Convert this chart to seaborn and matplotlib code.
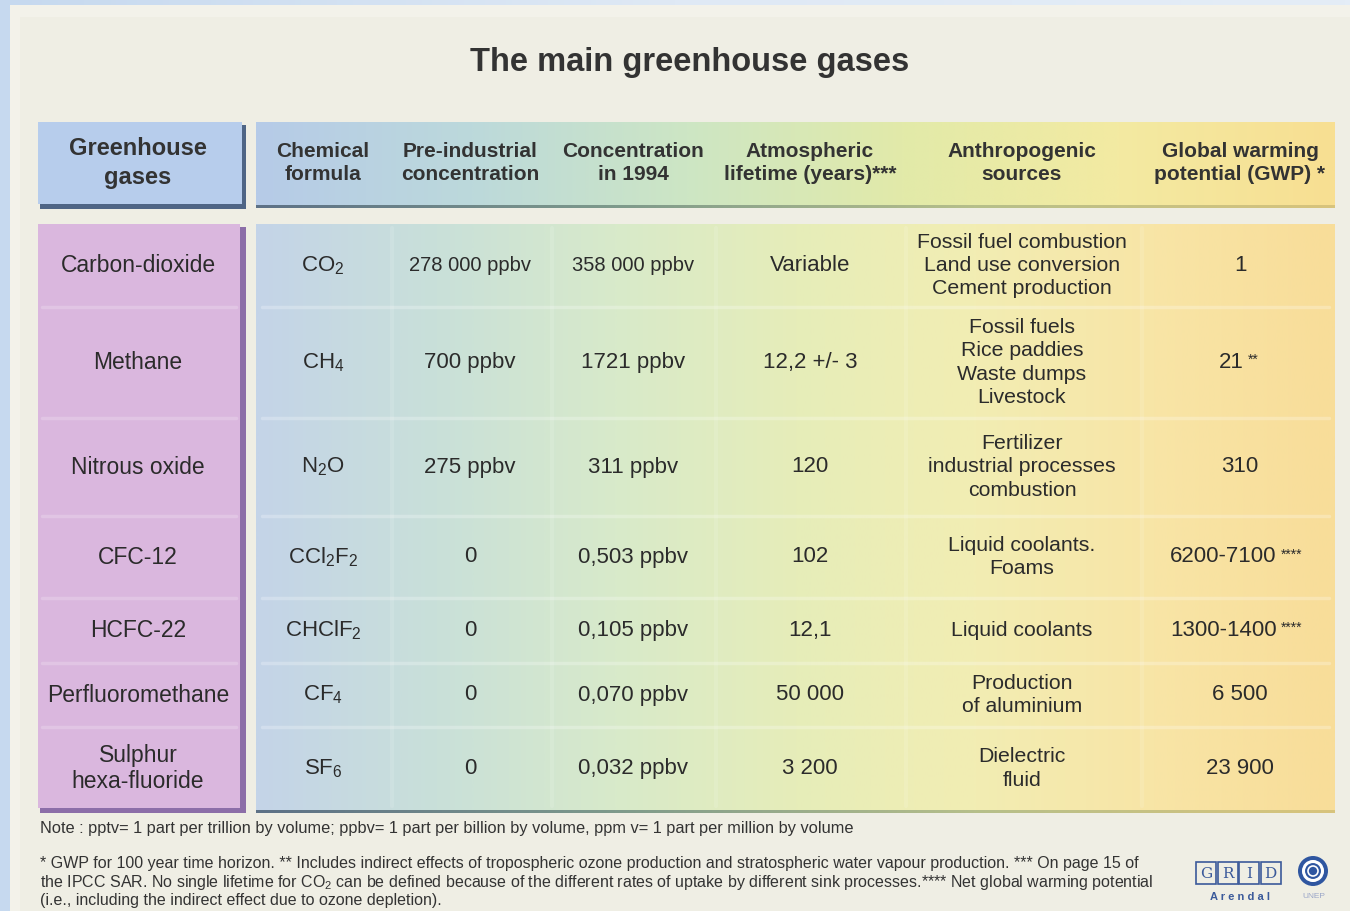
import matplotlib
matplotlib.use('Agg')
import matplotlib.pyplot as plt
import matplotlib.transforms as mtransforms
from matplotlib.patches import Rectangle, Circle
import numpy as np
import seaborn as sns

sns.set_theme(style='white')
plt.rcParams['font.family'] = ['Liberation Sans', 'DejaVu Sans']
plt.rcParams['mathtext.default'] = 'regular'

# table content
title = 'The main greenhouse gases'
headers = ['Greenhouse\ngases', 'Chemical\nformula', 'Pre-industrial\nconcentration',
           'Concentration\nin 1994', 'Atmospheric\nlifetime (years)***',
           'Anthropogenic\nsources', 'Global warming\npotential (GWP) *']
gases = ['Carbon-dioxide', 'Methane', 'Nitrous oxide', 'CFC-12', 'HCFC-22',
         'Perfluoromethane', 'Sulphur\nhexa-fluoride']
formulas = [r'$\mathregular{CO_2}$', r'$\mathregular{CH_4}$', r'$\mathregular{N_2O}$',
            r'$\mathregular{CCl_2F_2}$', r'$\mathregular{CHClF_2}$',
            r'$\mathregular{CF_4}$', r'$\mathregular{SF_6}$']
pre_industrial = ['278 000 ppbv', '700 ppbv', '275 ppbv', '0', '0', '0', '0']
conc_1994 = ['358 000 ppbv', '1721 ppbv', '311 ppbv', '0,503 ppbv', '0,105 ppbv',
             '0,070 ppbv', '0,032 ppbv']
lifetime = ['Variable', '12,2 +/- 3', '120', '102', '12,1', '50 000', '3 200']
sources = ['Fossil fuel combustion\nLand use conversion\nCement production',
           'Fossil fuels\nRice paddies\nWaste dumps\nLivestock',
           'Fertilizer\nindustrial processes\ncombustion',
           'Liquid coolants.\nFoams', 'Liquid coolants',
           'Production\nof aluminium', 'Dielectric\nfluid']
gwp = ['1', '21', '310', '6200-7100', '1300-1400', '6 500', '23 900']
gwp_marks = ['', '**', '', '****', '****', '', '']

note = ('Note : pptv= 1 part per trillion by volume; ppbv= 1 part per billion by volume, '
        'ppm v= 1 part per million by volume')
footnote = ('* GWP for 100 year time horizon. ** Includes indirect effects of tropospheric ozone '
            'production and stratospheric water vapour production. *** On page 15 of\n'
            'the IPCC SAR. No single lifetime for CO$_2$ can be defined because of the different '
            'rates of uptake by different sink processes.**** Net global warming potential\n'
            '(i.e., including the indirect effect due to ozone depletion).')

# layout (pixels)
W, H = 1350, 911
col_centers = [138, 323, 470, 633, 810, 1022, 1240]
col_lines = [392, 552, 716, 906, 1142]
row_edges = [224, 307, 418, 516, 598, 663, 727, 810]
head_top, head_bot = 122, 206
c0_left, c0_right = 38, 242
g_left, g_right = 256, 1335

fig = plt.figure(figsize=(W / 100, H / 100), dpi=100)
ax = fig.add_axes([0, 0, 1, 1])
ax.set_axis_off()

# background
bg = sns.blend_palette(['#c6d9ef', '#dfe9f5', '#e4edf7'], as_cmap=True)
ax.imshow(np.linspace(0, 1, 256)[None, :], cmap=bg, aspect='auto',
          extent=(0, W, H, 0), zorder=0)
ax.add_patch(Rectangle((10, 5), W - 10, H - 5, fc='#f3f2ea', ec='none', zorder=1))
ax.add_patch(Rectangle((20, 17), W - 20, H - 17, fc='#efeee4', ec='none', zorder=1))

head_cmap = sns.blend_palette(['#b6cbe8', '#bcd9db', '#cde6c4', '#e2eaa9',
                               '#f3eaa2', '#f8df92'], as_cmap=True)
body_cmap = sns.blend_palette(['#c4d4e8', '#c9e0d9', '#d8eaca', '#e6edb9',
                               '#f2edb3', '#f8e5a6', '#f8dd99'], as_cmap=True)
shadow_cmap = sns.blend_palette(['#5d7186', '#7e9a8c', '#b6bf8a', '#d8c47c'], as_cmap=True)
grad = np.linspace(0, 1, 512)[None, :]


def grad_box(x0, x1, y0, y1, cmap, z):
    ax.imshow(grad, cmap=cmap, aspect='auto', extent=(x0, x1, y1, y0),
              zorder=z, interpolation='bilinear')


# header boxes
ax.add_patch(Rectangle((c0_left + 2, head_top + 3), c0_right - c0_left + 2, head_bot - head_top,
                       fc='#4f6585', ec='none', zorder=2))
ax.add_patch(Rectangle((c0_left, head_top), c0_right - c0_left, head_bot - head_top - 2,
                       fc='#b7cdec', ec='none', zorder=3))
grad_box(g_left, g_right, head_top + 4, head_bot + 2, shadow_cmap, 2)
grad_box(g_left, g_right, head_top, head_bot - 1, head_cmap, 3)

# body boxes
ax.add_patch(Rectangle((c0_left + 2, row_edges[0] + 3), c0_right - c0_left + 2,
                       row_edges[-1] - row_edges[0], fc='#8c6ea8', ec='none', zorder=2))
ax.add_patch(Rectangle((c0_left, row_edges[0]), c0_right - c0_left - 2,
                       row_edges[-1] - row_edges[0] - 2, fc='#dab7de', ec='none', zorder=3))
grad_box(g_left, g_right, row_edges[0] + 4, row_edges[-1] + 3, shadow_cmap, 2)
grad_box(g_left, g_right, row_edges[0], row_edges[-1], body_cmap, 3)

for y in row_edges[1:-1]:
    ax.plot([c0_left + 4, c0_right - 6], [y, y], color='white', lw=2.5, alpha=0.2, zorder=4)
    ax.plot([g_left + 6, g_right - 6], [y, y], color='white', lw=2.5, alpha=0.25, zorder=4)
for x in col_lines:
    ax.plot([x, x], [row_edges[0] + 4, row_edges[-1] - 4], color='white', lw=3,
            alpha=0.12, zorder=4)

txt = '#2b2b2b'
ax.text(690, 62, title, ha='center', va='center', fontsize=23.5, fontweight='bold',
        color='#333333', zorder=6)

for i, h in enumerate(headers):
    fs = 17 if i == 0 else 15
    ax.text(col_centers[i], (head_top + head_bot) / 2 - 1, h, ha='center', va='center',
            fontsize=fs, fontweight='bold', color='#333333', linespacing=1.3, zorder=6)

columns = [gases, formulas, pre_industrial, conc_1994, lifetime, sources]
for r in range(len(gases)):
    yc = (row_edges[r] + row_edges[r + 1]) / 2
    for c, col in enumerate(columns):
        s = col[r]
        fs, ls = 16, 1.2
        if c in (2, 3) and len(s) > 10:
            fs = 14.5
        if c == 0:
            fs = 16.5
        if c == 5:
            fs, ls = 15.3, 1.3
        ax.text(col_centers[c], yc, s, ha='center', va='center', fontsize=fs,
                color=txt, linespacing=ls, zorder=6)
    # gwp value with small stars, whole group centred
    shift = -len(gwp_marks[r]) * 3.0
    tr = mtransforms.offset_copy(ax.transData, fig=fig, x=shift, y=0, units='points')
    t = ax.text(col_centers[6], yc, gwp[r], ha='center', va='center', fontsize=16,
                color=txt, transform=tr, zorder=6)
    if gwp_marks[r]:
        ax.annotate(gwp_marks[r], xy=(1, 0.95), xycoords=t, xytext=(3, 0),
                    textcoords='offset points', ha='left', va='top', fontsize=10,
                    color=txt, zorder=6)

ax.text(40, 829, note, ha='left', va='center', fontsize=11.8, color='#333333', zorder=6)
ax.text(40, 882, footnote, ha='left', va='center', fontsize=11.5, color='#333333',
        linespacing=1.12, zorder=6)

# GRID-Arendal / UNEP logos
for k, ch in enumerate('GRID'):
    x0 = 1196 + k * 21.5
    ax.add_patch(Rectangle((x0, 862), 20, 22, fc='none', ec='#3b5a9a', lw=1.2, zorder=6))
    ax.text(x0 + 10, 873.5, ch, ha='center', va='center', fontsize=11, family='DejaVu Serif',
            color='#3b5a9a', zorder=7)
ax.text(1240, 897, 'A r e n d a l', ha='center', va='center', fontsize=8, fontweight='bold',
        color='#3b5a9a', zorder=6)
ax.add_patch(Circle((1313, 871), 15, fc='#2f56a0', ec='none', zorder=6))
ax.add_patch(Circle((1313, 871), 9.5, fc='none', ec='white', lw=2.2, zorder=7))
ax.add_patch(Circle((1313, 871), 5, fc='#2f56a0', ec='white', lw=1.2, zorder=7))
ax.text(1314, 897, 'UNEP', ha='center', va='center', fontsize=6, color='#9aa6c8', zorder=6)

ax.set_xlim(0, W)
ax.set_ylim(H, 0)
fig.savefig('out.png', dpi=100)
